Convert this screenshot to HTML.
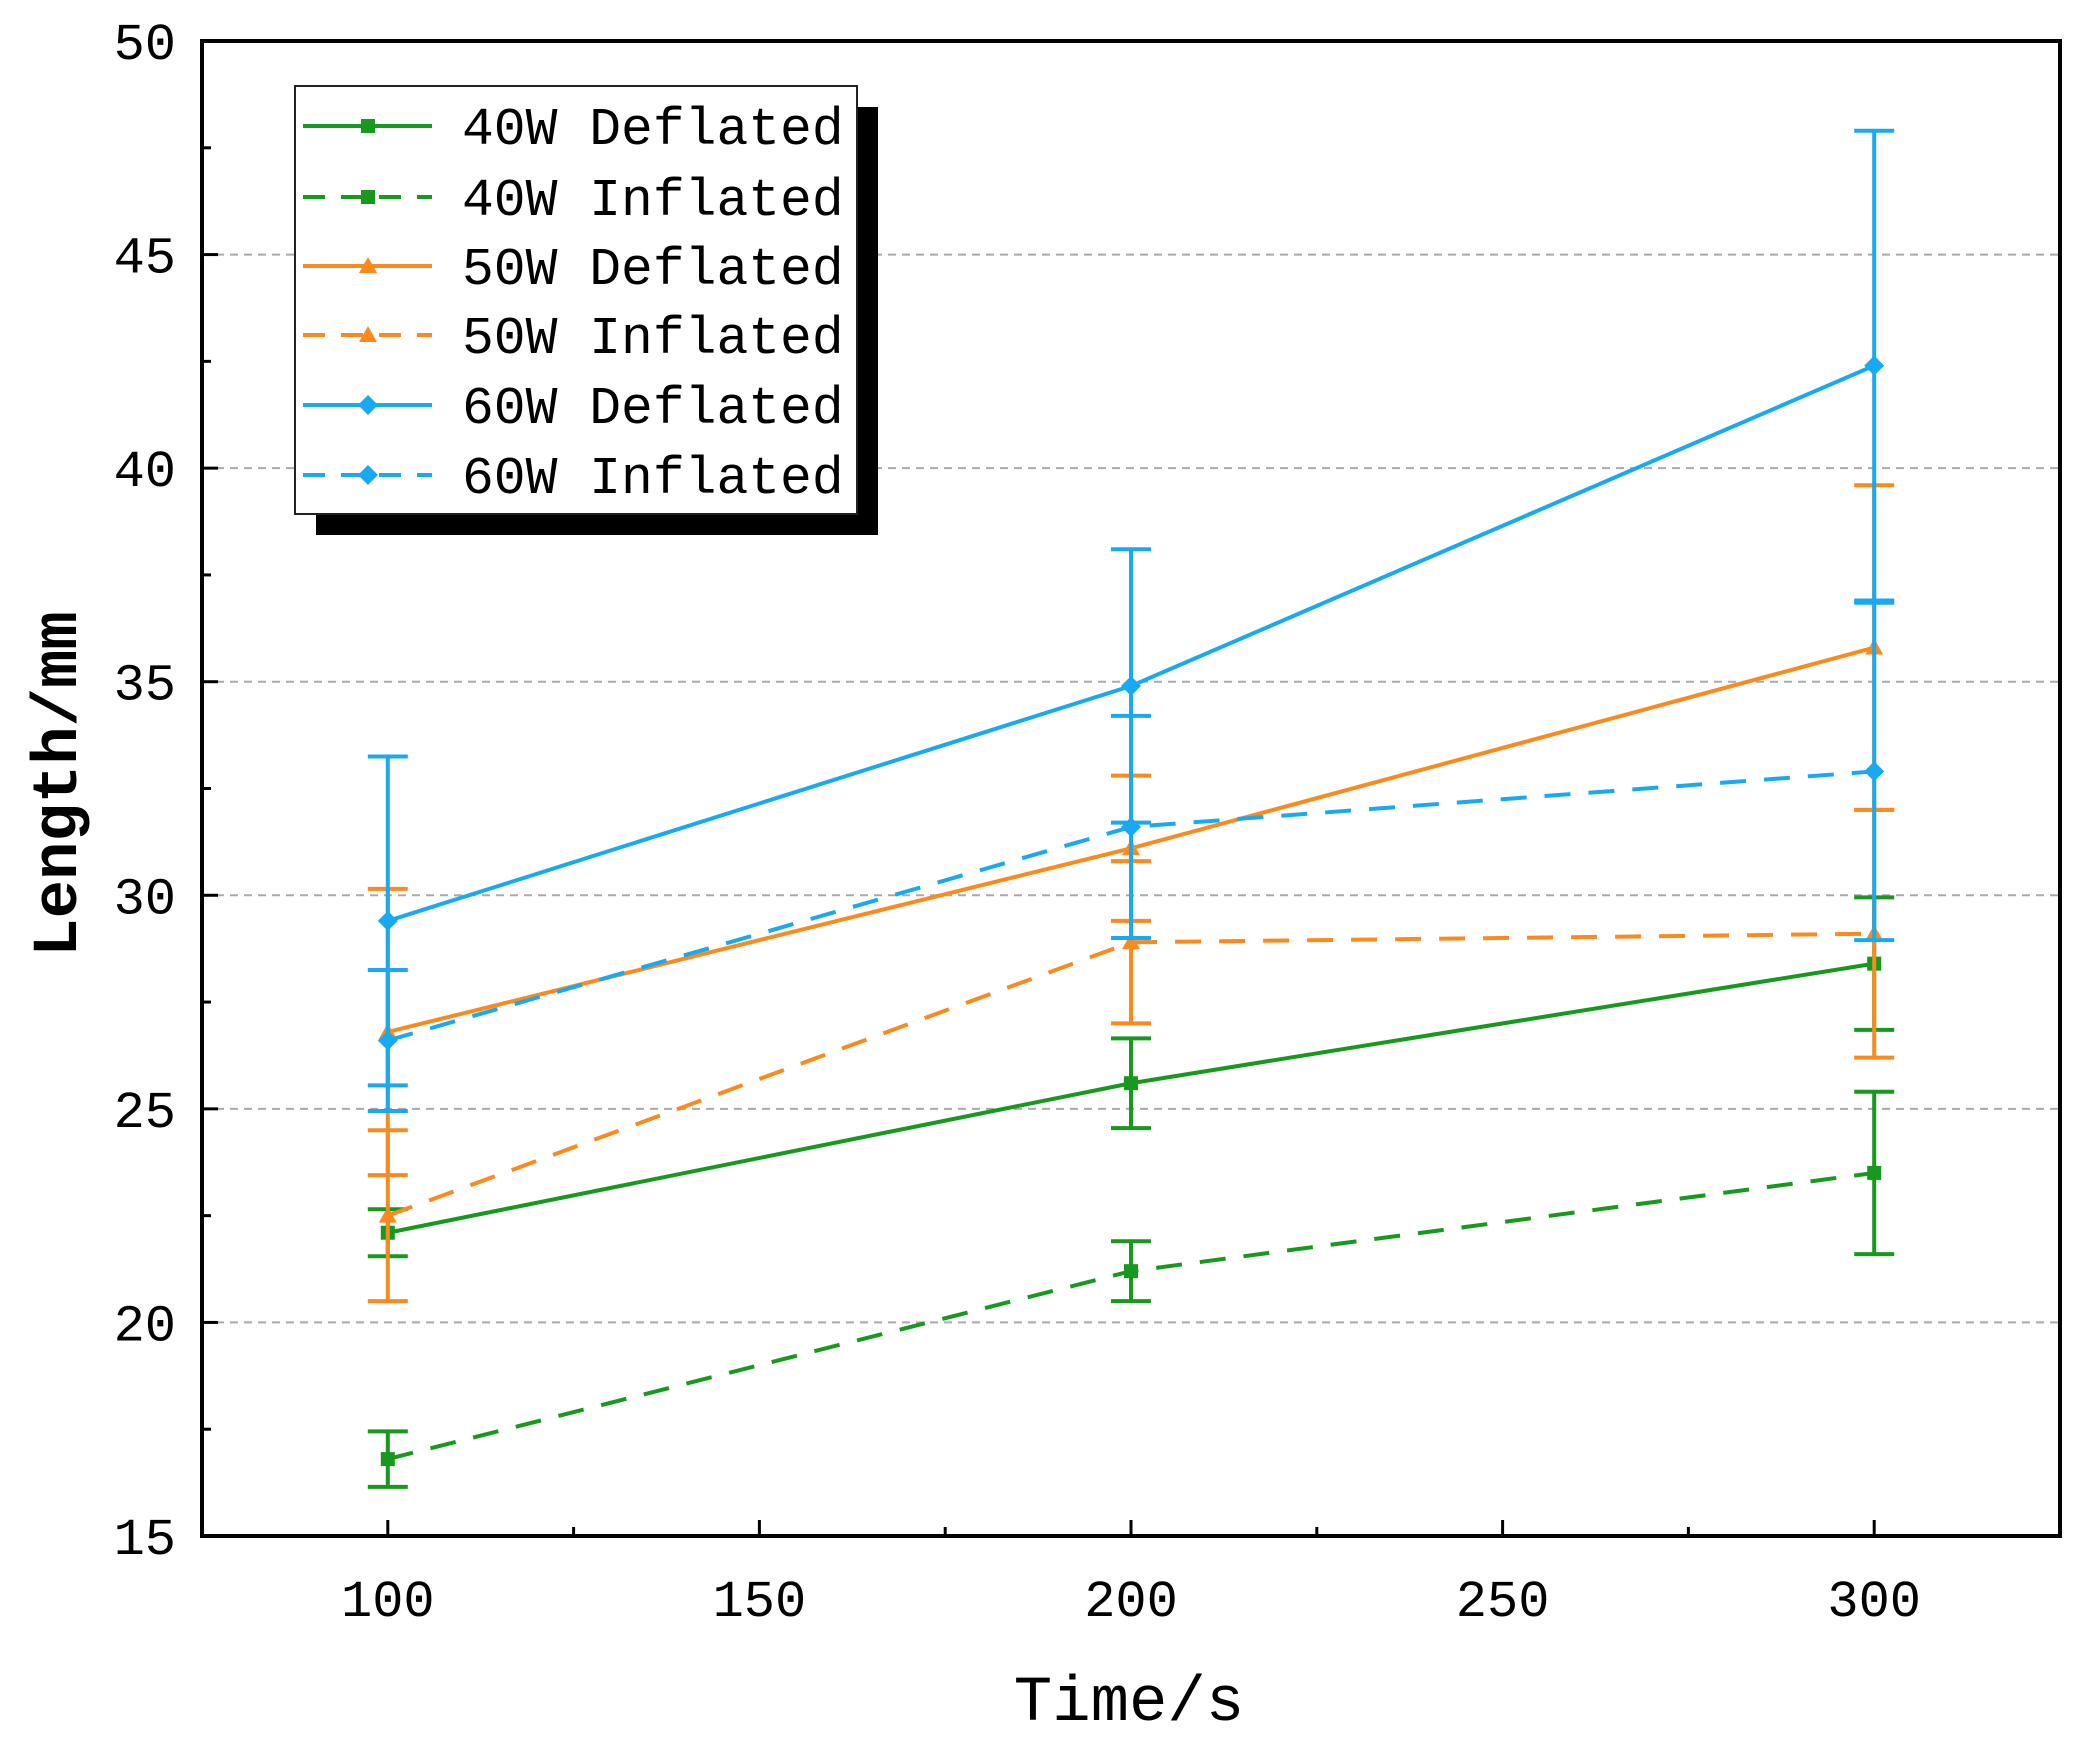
<!DOCTYPE html>
<html><head><meta charset="utf-8"><style>
html,body{margin:0;padding:0;background:#fff;}
svg text{font-family:"Liberation Mono","DejaVu Sans Mono",monospace;fill:#000;}
</style></head><body>
<svg id="chart" width="2082" height="1746" viewBox="0 0 2082 1746" xmlns="http://www.w3.org/2000/svg">
<g id="grid"></g>
<g id="series"></g>
<rect x="202" y="41" width="1858" height="1495" fill="none" stroke="#000" stroke-width="4"/>
<g id="axes"></g>
<text x="1129" y="1720" font-size="64" text-anchor="middle">Time/s</text>
<text transform="translate(76,784) rotate(-90)" font-size="64" font-weight="bold" text-anchor="middle">Length/mm</text>
<g id="legend"></g>
</svg>
<script>
const times=[100,200,300];
const names=["40W Deflated","40W Inflated","50W Deflated","50W Inflated","60W Deflated","60W Inflated"];
const means40D=[22.1,25.6,28.4], err40D=[0.55,1.05,1.55];
const means40I=[16.8,21.2,23.5], err40I=[0.65,0.7,1.9];
const means50D=[26.8,31.1,35.8], err50D=[3.35,1.7,3.8];
const means50I=[22.5,28.9,29.1], err50I=[2.0,1.9,2.9];
const means60D=[29.4,34.9,42.4], err60D=[3.85,3.2,5.5];
const means60I=[26.6,31.6,32.9], err60I=[1.65,2.6,3.95];
const yTicks=[15,20,25,30,35,40,45,50];
const xTicks=[100,150,200,250,300];
const NS="http://www.w3.org/2000/svg";
const X0=202,X1=2060,Y0=1536,Y1=41,xmin=75,xmax=325,ymin=15,ymax=50;
const sx=v=>X0+(v-xmin)/(xmax-xmin)*(X1-X0);
const sy=v=>Y0-(v-ymin)/(ymax-ymin)*(Y0-Y1);
function mk(tag,attrs,parent){const e=document.createElementNS(NS,tag);for(const k in attrs)e.setAttribute(k,attrs[k]);parent.appendChild(e);return e;}
const grid=document.getElementById('grid'),axes=document.getElementById('axes'),ser=document.getElementById('series'),leg=document.getElementById('legend');
yTicks.forEach(t=>{
 if(t>ymin&&t<ymax){const l=mk('line',{x1:X0,x2:X1,y1:sy(t),y2:sy(t),stroke:'#aaa','stroke-width':2,'stroke-dasharray':'8 6'},grid);
 
 }
 const tk=mk('line',{x1:X0,x2:X0+16,y1:sy(t),y2:sy(t),stroke:'#000','stroke-width':3},axes);
 
 
 if(t<ymax){const m=mk('line',{x1:X0,x2:X0+9,y1:sy(t+2.5),y2:sy(t+2.5),stroke:'#000','stroke-width':3},axes);
 
 }
 const tx=mk('text',{x:176,y:sy(t)+18,'font-size':52,'text-anchor':'end'},axes);tx.textContent=t;
 
 
});
xTicks.forEach(t=>{
 const tk=mk('line',{x1:sx(t),x2:sx(t),y1:Y0,y2:Y0-16,stroke:'#000','stroke-width':3},axes);
 
 
 const m=mk('line',{x1:sx(t+25),x2:sx(t+25),y1:Y0,y2:Y0-9,stroke:'#000','stroke-width':3},axes);
 
 
 const tx=mk('text',{x:sx(t),y:1616,'font-size':52,'text-anchor':'middle'},axes);tx.textContent=t;
 
 
});
const G='#16991c',O='#fb8a1e',B='#19a9f2';
const specs=[[means40D,err40D,G,false,'sq'],[means40I,err40I,G,true,'sq'],[means50D,err50D,O,false,'tri'],[means50I,err50I,O,true,'tri'],[means60D,err60D,B,false,'dia'],[means60I,err60I,B,true,'dia']];
function marker(type,x,y,c,p){
 if(type==='sq')return mk('rect',{x:x-7,y:y-7,width:14,height:14,fill:c},p);
 if(type==='tri')return mk('polygon',{points:`${x},${y-9} ${x+9},${y+7} ${x-9},${y+7}`,fill:c},p);
 return mk('polygon',{points:`${x},${y-10} ${x+10},${y} ${x},${y+10} ${x-10},${y}`,fill:c},p);
}
specs.forEach((s,i)=>{
 const [m,e,c,dash,mt]=s;
 const g=mk('g',{},ser);
 
 
 const pl=mk('polyline',{points:times.map((t,j)=>sx(t)+','+sy(m[j])).join(' '),fill:'none',stroke:c,'stroke-width':4,'stroke-dasharray':dash?'26 18':'none'},g);
 
 
 times.forEach((t,j)=>{
  const x=sx(t),a=sy(m[j]+e[j]),b=sy(m[j]-e[j]);
  const eb=mk('path',{d:`M${x},${a}V${b}M${x-20},${a}H${x+20}M${x-20},${b}H${x+20}`,stroke:c,'stroke-width':4,fill:'none'},g);
  
  
  const mm=marker(mt,x,sy(m[j]),c,g);
  
  
 });
});
const sh=mk('rect',{x:316,y:107,width:562,height:428,fill:'#000'},leg);


const bx=mk('rect',{x:295,y:86,width:562,height:428,fill:'#fff',stroke:'#222','stroke-width':2},leg);


const ly=[126,197,266,335,405,475];
specs.forEach((s,i)=>{
 const g=mk('g',{},leg);
 
 
 mk('line',{x1:303,x2:432,y1:ly[i],y2:ly[i],stroke:s[2],'stroke-width':4,'stroke-dasharray':s[3]?'22 16':'none'},g);
 marker(s[4],368,ly[i],s[2],g);
 const t=mk('text',{x:462,y:ly[i]+18,'font-size':53},g);t.textContent=names[i];
});
</script>
</body></html>
